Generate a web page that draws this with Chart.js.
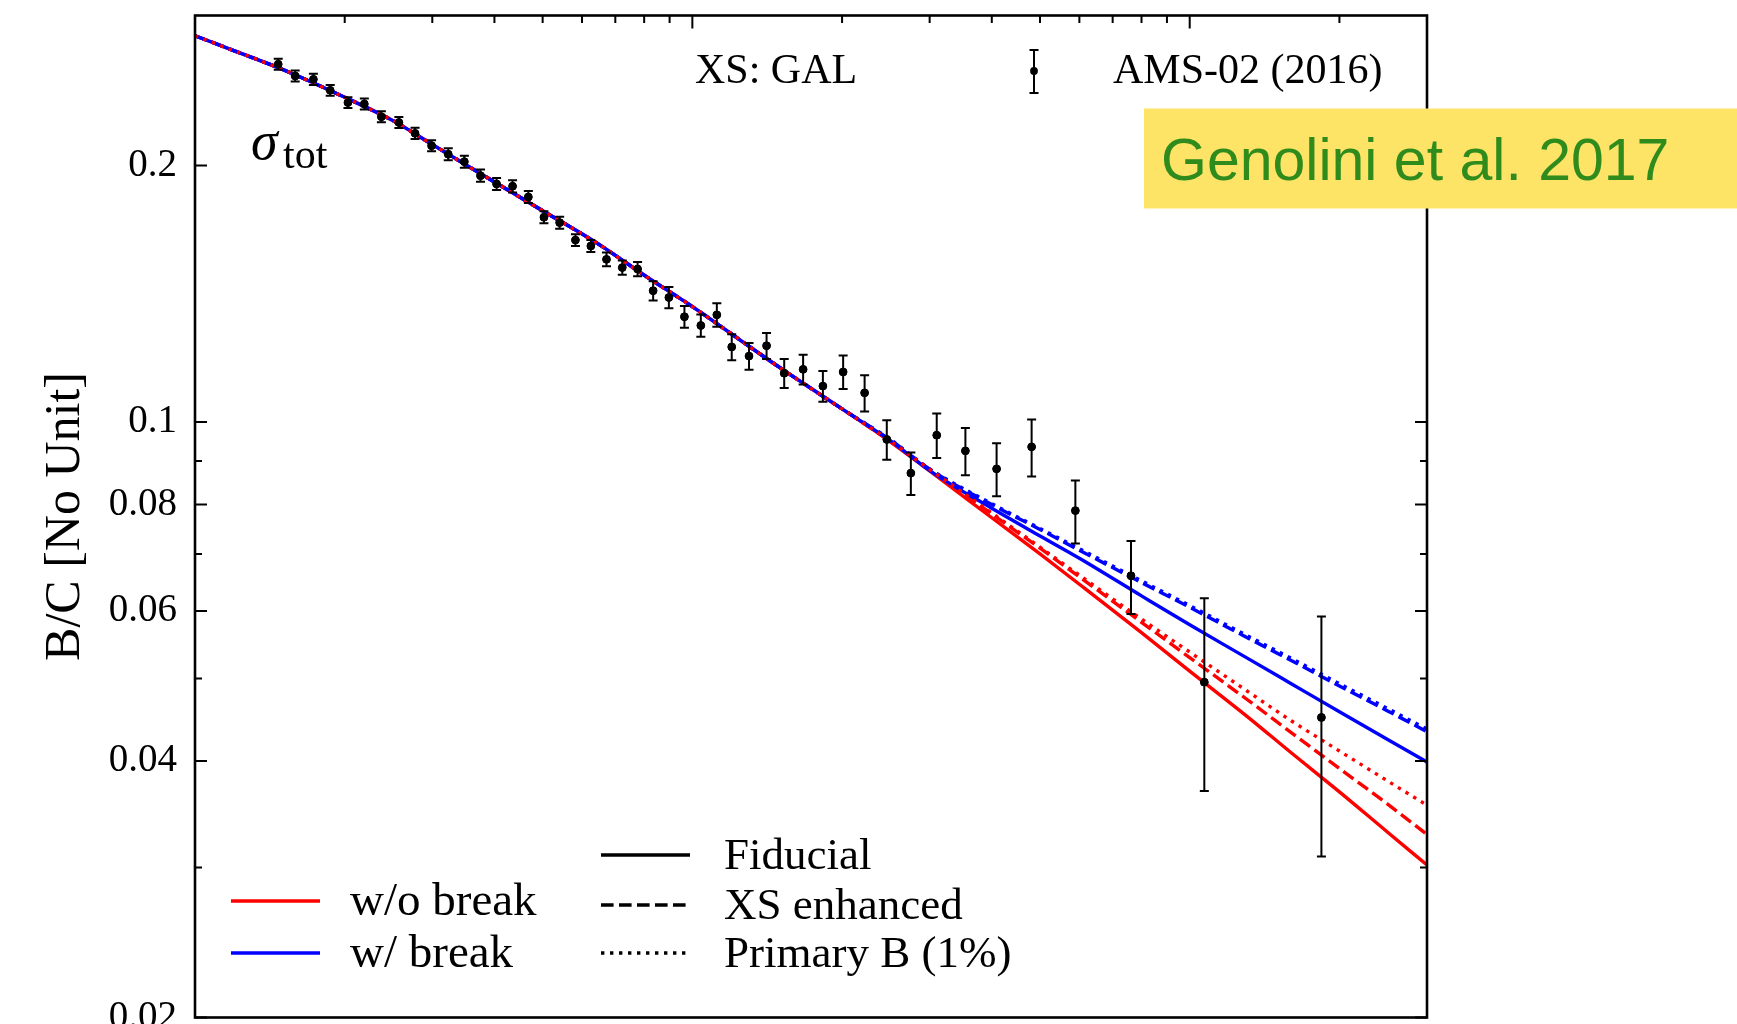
<!DOCTYPE html>
<html>
<head>
<meta charset="utf-8">
<script src="https://cdn.jsdelivr.net/npm/chart.js@4.4.1/dist/chart.umd.min.js"></script>
<style>
  body { margin: 0; background: #fff; }
  #bcChart { display: block; }
</style>
</head>
<body>
<canvas id="bcChart" width="1737" height="1024"></canvas>
<script>
// AMS-02 (2016) B/C, rigidity bin centres [GV]
var amsRigidity = [14.7, 15.9, 17.3, 18.7, 20.3, 21.9, 23.7, 25.7, 27.7, 29.9,
                   32.3, 34.8, 37.5, 40.4, 43.5, 46.8, 50.3, 54.1, 58.2, 62.5,
                   67.2, 72.3, 77.6, 83.4, 89.7, 96.4, 104, 112, 120, 130,
                   141, 153, 167, 183, 201, 222, 246, 275, 310, 354,
                   409, 481, 589, 762, 1070, 1840];
var amsBC = [0.2630, 0.2548, 0.2525, 0.2451, 0.2371, 0.2362, 0.2282, 0.2247, 0.2182, 0.2110,
             0.2062, 0.2021, 0.1946, 0.1903, 0.1891, 0.1837, 0.1739, 0.1714, 0.1635, 0.1609,
             0.1552, 0.1518, 0.1512, 0.1426, 0.1400, 0.1329, 0.1298, 0.1336, 0.1225, 0.1195,
             0.1229, 0.1141, 0.1153, 0.1102, 0.1145, 0.1082, 0.0954, 0.0871, 0.0965, 0.0925,
             0.0881, 0.0935, 0.0787, 0.0660, 0.0495, 0.0450];
var amsErr = [0.0039, 0.0038, 0.0038, 0.0036, 0.0035, 0.0035, 0.0034, 0.0033, 0.0033, 0.0031,
              0.0033, 0.0033, 0.0032, 0.0031, 0.0031, 0.0030, 0.0028, 0.0028, 0.0026, 0.0026,
              0.0029, 0.0029, 0.0029, 0.0037, 0.0040, 0.0039, 0.0039, 0.0042, 0.0043, 0.0043,
              0.0043, 0.0045, 0.0046, 0.0046, 0.0052, 0.0053, 0.0051, 0.0050, 0.0058, 0.0059,
              0.0063, 0.0072, 0.0067, 0.0065, 0.0126, 0.0141];

// model curves
var modelR = [10, 12, 15, 20, 25, 30, 40, 50, 65, 80, 100, 125, 150, 200,
              250, 300, 400, 500, 600, 800, 1000, 1300, 1600, 2000, 2500, 3000];
var noBreakFid  = [0.284, 0.2727, 0.2593, 0.2405, 0.2258, 0.2117, 0.1913, 0.1770, 0.1615, 0.1487, 0.1366, 0.1247, 0.1158, 0.1036,
                   0.0948, 0.0876, 0.0772, 0.0700, 0.0645, 0.0566, 0.0510, 0.0452, 0.0409, 0.0368, 0.0330, 0.0302];
var noBreakXS   = [0.284, 0.2727, 0.2593, 0.2405, 0.2258, 0.2117, 0.1913, 0.1770, 0.1615, 0.1487, 0.1366, 0.1247, 0.1158, 0.1036,
                   0.0949, 0.0880, 0.0780, 0.0711, 0.0658, 0.0582, 0.0529, 0.0473, 0.0432, 0.0392, 0.0356, 0.0328];
var noBreakPrim = [0.284, 0.2727, 0.2593, 0.2405, 0.2258, 0.2117, 0.1913, 0.1770, 0.1615, 0.1487, 0.1366, 0.1247, 0.1158, 0.1036,
                   0.0950, 0.0880, 0.0782, 0.0713, 0.0661, 0.0587, 0.0537, 0.0484, 0.0446, 0.0411, 0.0379, 0.0355];
var breakFid    = [0.284, 0.2727, 0.2593, 0.2405, 0.2258, 0.2117, 0.1913, 0.1770, 0.1615, 0.1487, 0.1366, 0.1247, 0.1158, 0.1036,
                   0.0951, 0.0877, 0.0792, 0.0735, 0.0692, 0.0625, 0.0578, 0.0529, 0.0493, 0.0457, 0.0424, 0.0399];
var breakXS     = [0.284, 0.2727, 0.2593, 0.2405, 0.2258, 0.2117, 0.1913, 0.1770, 0.1615, 0.1487, 0.1366, 0.1247, 0.1158, 0.1036,
                   0.0953, 0.0880, 0.0800, 0.0748, 0.0707, 0.0648, 0.0606, 0.0559, 0.0525, 0.0490, 0.0458, 0.0433];
var breakPrim   = [0.284, 0.2727, 0.2593, 0.2405, 0.2258, 0.2117, 0.1913, 0.1770, 0.1615, 0.1487, 0.1366, 0.1247, 0.1158, 0.1036,
                   0.0954, 0.0881, 0.0802, 0.0750, 0.0710, 0.0651, 0.0609, 0.0562, 0.0528, 0.0493, 0.0461, 0.0436];

var yTicks = [0.02, 0.03, 0.04, 0.05, 0.06, 0.07, 0.08, 0.09, 0.1, 0.2];
var yLabels = [0.02, 0.04, 0.06, 0.08, 0.1, 0.2];
var xMinorTicks = [20, 30, 40, 50, 60, 70, 80, 90, 200, 300, 400, 500, 600, 700, 800, 900, 2000];
var xMajorTicks = [100, 1000];

var SERIF = '"Liberation Serif", "DejaVu Serif", serif';
var LW = 3.4;
var DASHED = [12.6, 5.4];
var DOTTED = [3.4, 5.6];

function curve(vals, color, dash) {
    return {
        type: 'line',
        data: modelR.map(function (r, i) { return {x: r, y: vals[i]}; }),
        borderColor: color,
        borderWidth: LW,
        borderDash: dash,
        pointRadius: 0,
        fill: false,
        cubicInterpolationMode: 'monotone'
    };
}

function legendLine(ctx, x1, x2, y, color, dash) {
    ctx.save();
    ctx.strokeStyle = color;
    ctx.lineWidth = LW;
    ctx.setLineDash(dash);
    ctx.beginPath();
    ctx.moveTo(x1, y);
    ctx.lineTo(x2, y);
    ctx.stroke();
    ctx.restore();
}

function errorBar(ctx, x, yTop, yBot, yMid) {
    ctx.beginPath();
    ctx.moveTo(x, yTop); ctx.lineTo(x, yBot);
    ctx.moveTo(x - 4.5, yTop); ctx.lineTo(x + 4.5, yTop);
    ctx.moveTo(x - 4.5, yBot); ctx.lineTo(x + 4.5, yBot);
    ctx.stroke();
    ctx.beginPath();
    ctx.arc(x, yMid, 3.9, 0, Math.PI * 2);
    ctx.fill();
}

var decor = {
    id: 'decor',
    beforeDraw: function (chart) {
        var ctx = chart.ctx;
        ctx.save();
        ctx.fillStyle = '#fff';
        ctx.fillRect(0, 0, chart.width, chart.height);
        ctx.restore();
    },
    afterDatasetsDraw: function (chart) {
        var ctx = chart.ctx, xs = chart.scales.x, ys = chart.scales.y;
        ctx.save();
        ctx.strokeStyle = '#000';
        ctx.fillStyle = '#000';
        ctx.lineWidth = 2;
        for (var i = 0; i < amsRigidity.length; i++) {
            var px = xs.getPixelForValue(amsRigidity[i]);
            errorBar(ctx, px,
                ys.getPixelForValue(amsBC[i] + amsErr[i]),
                ys.getPixelForValue(amsBC[i] - amsErr[i]),
                ys.getPixelForValue(amsBC[i]));
        }
        ctx.restore();
    },
    afterDraw: function (chart) {
        var ctx = chart.ctx, a = chart.chartArea, xs = chart.scales.x, ys = chart.scales.y;
        ctx.save();
        ctx.strokeStyle = '#000';
        ctx.lineWidth = 2.6;
        ctx.strokeRect(a.left, a.top, a.right - a.left, a.bottom - a.top);

        // inward ticks
        ctx.lineWidth = 2;
        ctx.beginPath();
        yTicks.forEach(function (v) {
            var py = ys.getPixelForValue(v);
            var len = yLabels.indexOf(v) >= 0 ? 12 : 7;
            ctx.moveTo(a.left, py); ctx.lineTo(a.left + len, py);
            ctx.moveTo(a.right, py); ctx.lineTo(a.right - len, py);
        });
        xMinorTicks.forEach(function (v) {
            var px = xs.getPixelForValue(v);
            ctx.moveTo(px, a.top); ctx.lineTo(px, a.top + 7.5);
        });
        xMajorTicks.forEach(function (v) {
            var px = xs.getPixelForValue(v);
            ctx.moveTo(px, a.top); ctx.lineTo(px, a.top + 13);
        });
        ctx.stroke();

        ctx.fillStyle = '#000';
        ctx.textBaseline = 'middle';

        // top annotations
        ctx.font = '42px ' + SERIF;
        ctx.fillText('XS: GAL', 695, 72);
        ctx.fillText('AMS-02 (2016)', 1113, 72);
        errorBar(ctx, 1034, 50, 93, 71);

        ctx.textBaseline = 'alphabetic';
        ctx.font = 'italic 54px ' + SERIF;
        ctx.fillText('\u03c3', 251, 159);
        ctx.font = '42px ' + SERIF;
        ctx.fillText('tot', 283, 168);

        // legend
        legendLine(ctx, 231, 320, 901, '#ff0000', []);
        legendLine(ctx, 231, 320, 953, '#0000ff', []);
        legendLine(ctx, 601, 690, 855, '#000', []);
        legendLine(ctx, 601, 690, 905, '#000', DASHED);
        legendLine(ctx, 601, 690, 953, '#000', DOTTED);
        ctx.textBaseline = 'middle';
        ctx.font = '45px ' + SERIF;
        ctx.fillText('Fiducial', 724, 857);
        ctx.fillText('XS enhanced', 724, 907);
        ctx.fillText('Primary B (1%)', 724, 955);
        ctx.font = '47px ' + SERIF;
        ctx.fillText('w/o break', 350, 903);
        ctx.fillText('w/ break', 350, 955);

        // reference tag
        ctx.fillStyle = '#fde466';
        ctx.fillRect(1144, 108.5, 593, 100);
        ctx.fillStyle = '#2e8b1c';
        ctx.textBaseline = 'alphabetic';
        ctx.font = '59px "Liberation Sans", Arial, sans-serif';
        ctx.fillText('Genolini et al. 2017', 1161, 180);
        ctx.restore();
    }
};

var ctx = document.getElementById('bcChart').getContext('2d');
new Chart(ctx, {
    type: 'line',
    data: {
        datasets: [
            {
                type: 'scatter',
                data: amsRigidity.map(function (r, i) { return {x: r, y: amsBC[i]}; }),
                backgroundColor: '#000',
                borderColor: '#000',
                pointRadius: 3.9,
                showLine: false
            },
            curve(noBreakPrim, '#ff0000', DOTTED),
            curve(breakPrim, '#0000ff', DOTTED),
            curve(breakXS, '#0000ff', DASHED),
            curve(breakFid, '#0000ff', []),
            curve(noBreakXS, '#ff0000', DASHED),
            curve(noBreakFid, '#ff0000', [])
        ]
    },
    options: {
        responsive: false,
        animation: false,
        devicePixelRatio: 1,
        layout: { padding: { left: 0, right: 310, top: 15.5, bottom: 6.5 } },
        plugins: {
            legend: { display: false },
            tooltip: { enabled: false }
        },
        scales: {
            x: {
                type: 'logarithmic',
                min: 10,
                max: 3000,
                grid: { display: false, drawTicks: false },
                border: { display: false },
                ticks: { display: false },
                afterFit: function (s) { s.height = 0; }
            },
            y: {
                type: 'logarithmic',
                min: 0.02,
                max: 0.3,
                grid: { display: false, drawTicks: false },
                border: { display: false },
                afterBuildTicks: function (s) {
                    s.ticks = yTicks.map(function (v) { return {value: v}; });
                },
                afterFit: function (s) {
                    s.width = 195;
                    s.paddingTop = 0;
                    s.paddingBottom = 0;
                },
                ticks: {
                    autoSkip: false,
                    padding: 18,
                    color: '#000',
                    font: { size: 39, family: SERIF },
                    callback: function (v) { return yLabels.indexOf(v) >= 0 ? String(v) : ''; }
                },
                title: {
                    display: true,
                    text: 'B/C [No Unit]',
                    color: '#000',
                    font: { size: 50, family: SERIF },
                    padding: { top: 36, bottom: 0 }
                }
            }
        }
    },
    plugins: [decor]
});
</script>
</body>
</html>
